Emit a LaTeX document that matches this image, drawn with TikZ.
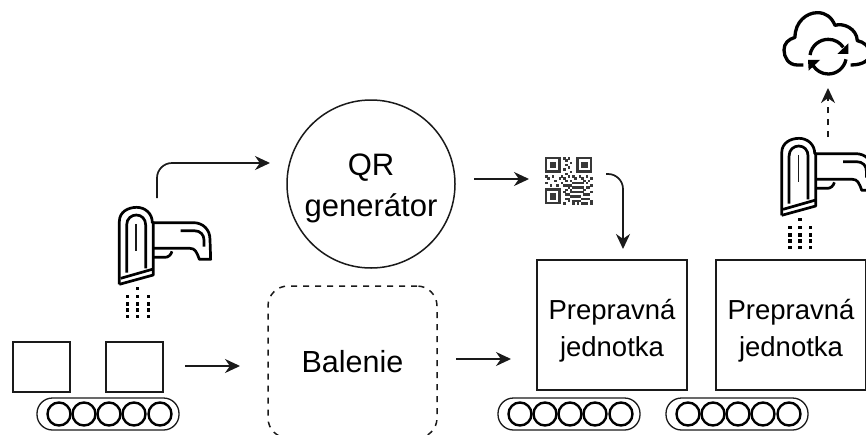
\documentclass[tikz,border=0pt]{standalone}
\usepackage{fontspec}
\setmainfont{Liberation Sans}
\usetikzlibrary{arrows.meta}
\definecolor{ink}{HTML}{1A1A1A}
\tikzset{
  flowarrow/.style={draw=ink,line width=1.7pt,-{Stealth[length=15pt,width=14pt]}},
  package/.style={draw=ink,line width=1.5pt,fill=white,inner sep=0pt,minimum width=57pt,minimum height=50pt},
  unit/.style={draw=ink,line width=1.5pt,fill=white,inner sep=0pt,minimum width=150pt,minimum height=130pt,align=center,font=\fontsize{27.5}{37}\selectfont},
  wheel/.style={draw=black,line width=2.4pt},
  belt/.style={draw=ink,line width=1.3pt,rounded corners=15.5pt},
  icon/.style={draw=black,line width=2.7pt,line join=round,line cap=butt}
}
\newcommand{\scannerglyph}[2]{%
  \begin{scope}[shift={(#1,#2)},x=0.3333pt,y=-0.3333pt]
    \draw[icon] (88,403) -- (88,215) .. controls (88,185) and (115,172) .. (140,172)
      .. controls (165,172) and (187,190) .. (187,218) -- (310,218)
      .. controls (340,218) and (360,240) .. (360,268) -- (362,328) -- (328,328)
      .. controls (320,305) and (315,295) .. (300,295) -- (190,295);
    \draw[icon] (190,215) -- (190,375) -- (88,403);
    \draw[icon] (92,385) -- (190,357);
    \draw[icon] (110,368) -- (110,225) .. controls (110,205) and (125,195) .. (139,195)
      .. controls (155,195) and (167,207) .. (167,225) -- (167,355);
    \draw[draw=ink,line width=1.7pt] (138,222) -- (138,303);
    \draw[icon] (190,322) -- (225,322) .. controls (235,322) and (243,315) .. (246,304);
    \draw[icon] (272,242) -- (312,242) .. controls (332,242) and (342,255) .. (342,270) -- (342,290);
    \foreach \dx in {113,143,175}
      \foreach \dy in {440,462,480,500}
        \fill[black] (\dx-5,\dy-5) rectangle (\dx+5,\dy+5);
    \fill[black] (138,410) rectangle (148,420);
  \end{scope}}
\newcommand{\beltglyph}[1]{%
  \draw[belt] (#1+37,398) rectangle (#1+179,430);
  \foreach \wx in {59,84,109,134,160}
    \draw[wheel] (#1+\wx,414) circle (11.5);}
\begin{document}
\begin{tikzpicture}[x=1pt,y=-1pt]
  \useasboundingbox (0,0) rectangle (866,434);
  \fill[white] (0,0) rectangle (866,434);
  \clip (0,0) rectangle (866,434);

  % conveyors and packages
  \beltglyph{0}
  \beltglyph{461}
  \beltglyph{629}
  \node[package] (boxa) at (41.5,367) {};
  \node[package] (boxb) at (134.5,367) {};

  % process nodes
  \node[draw=ink,line width=1.5pt,circle,minimum size=168pt,inner sep=0pt,align=center,
        font=\fontsize{31}{38}\selectfont] (qr) at (371,184) {\rule{0pt}{30pt}QR\\[3pt]generátor};
  \node[draw=ink,line width=1.5pt,dash pattern=on 6pt off 6pt,rounded corners=20pt,
        minimum width=169pt,minimum height=152pt,inner sep=0pt,
        font=\fontsize{30.5}{36}\selectfont] (bal) at (352.5,362) {Balenie};
  \node[unit] (unita) at (612,325) {\rule{0pt}{32pt}Prepravná\\jednotka};
  \node[unit] (unitb) at (791,325) {\rule{0pt}{32pt}Prepravná\\jednotka};

  % scanners
  \scannerglyph{90}{150}
  \scannerglyph{752.4}{81}

  % QR code glyph
  \begin{scope}[shift={(545,157)},x=2.25pt,y=-2.25pt,black!78]
    \foreach \fx/\fy in {0/0,14/0,0/14}{
      \draw[line width=2.3pt] (\fx+.5,\fy+.5) rectangle (\fx+6.5,\fy+6.5);
      \fill (\fx+2,\fy+2) rectangle (\fx+5,\fy+5);}
    \foreach \c/\r in {8/0,9/1,10/0,11/2,9/3,10/4,8/5,11/6,9/7,12/8,
      0/8,1/9,3/8,4/10,6/9,7/8,8/9,10/8,9/10,11/10,13/9,15/8,16/9,18/8,20/9,
      0/11,2/12,5/12,7/11,8/12,10/12,12/11,14/11,16/11,18/11,20/12,
      9/14,11/14,13/13,15/13,17/14,19/13,20/15,
      8/15,10/16,12/15,14/15,16/15,18/16,
      9/18,11/17,13/17,15/17,17/18,19/18,20/19,
      8/20,10/19,12/20,14/19,16/20,18/20,20/20,13/19,15/19,
      10/13,12/13,14/13,16/13,18/13,9/12,11/12,13/11,15/11,17/10,19/10,
      11/15,13/15,15/15,17/16,19/16,9/16,12/17,14/17,16/18,18/18,10/18,12/19,14/20,17/20}
      \fill (\c,\r) rectangle (\c+1.2,\r+1.2);
  \end{scope}

  % cloud glyph
  \begin{scope}[shift={(760,0)},x=0.3333pt,y=-0.3333pt]
    \draw[icon,line width=3.3pt] (130,195) -- (112,195)
      .. controls (85,195) and (72,172) .. (72,150)
      .. controls (72,130) and (85,118) .. (105,112)
      .. controls (105,65) and (140,38) .. (172,38)
      .. controls (198,38) and (215,52) .. (225,76)
      .. controls (250,68) and (290,85) .. (292,122)
      .. controls (310,125) and (330,140) .. (330,160)
      .. controls (330,180) and (310,195) .. (272,195);
    \draw[icon,line width=3.3pt] (150,165) .. controls (155,135) and (180,118) .. (205,118)
      .. controls (225,118) and (240,128) .. (250,142);
    \draw[icon,line width=3.3pt] (258,178) .. controls (252,205) and (230,222) .. (205,222)
      .. controls (185,222) and (170,212) .. (160,198);
    \fill[black] (265,130) -- (265,162) -- (232,162) -- cycle;
    \fill[black] (144,180) -- (180,180) -- (146,212) -- cycle;
  \end{scope}

  % connectors
  \coordinate (scanOut) at (157,198);
  \coordinate (qrIn) at (270,163);
  \coordinate (qrOut) at (474,179);
  \coordinate (codeIn) at (529,179);
  \coordinate (codeOut) at (606,174);
  \coordinate (unitIn) at (623,249);
  \coordinate (beltOut) at (185,366);
  \coordinate (balIn) at (240,366);
  \coordinate (balOut) at (456,359);
  \coordinate (beltIn) at (511,359);
  \coordinate (scanUp) at (828,137);
  \coordinate (cloudIn) at (828,88);
  \draw[flowarrow,rounded corners=15pt] (scanOut) |- (qrIn);
  \draw[flowarrow] (qrOut) -- (codeIn);
  \draw[flowarrow,rounded corners=15pt] (codeOut) -| (unitIn);
  \draw[flowarrow] (beltOut) -- (balIn);
  \draw[flowarrow] (balOut) -- (beltIn);
  \draw[flowarrow,dash pattern=on 6pt off 6pt] (scanUp) -- (cloudIn);
\end{tikzpicture}
\end{document}
